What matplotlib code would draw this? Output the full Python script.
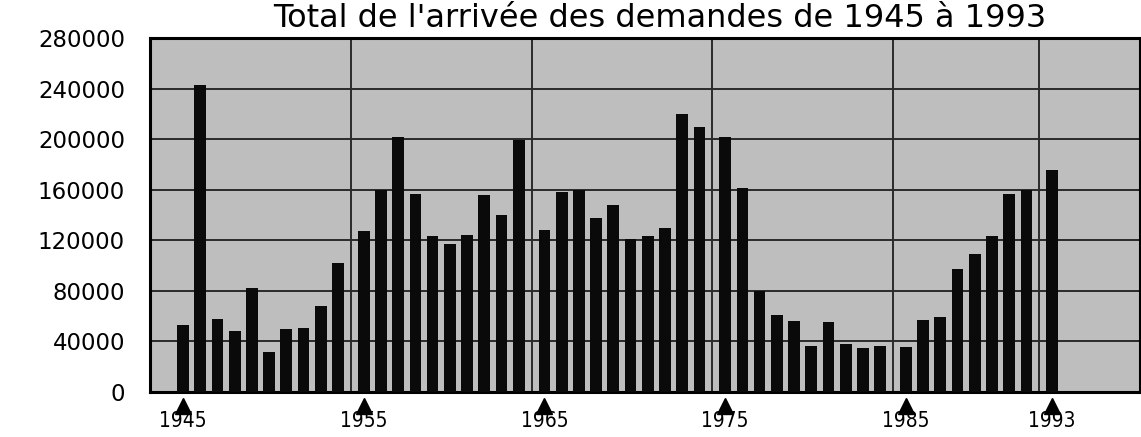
import numpy as np
import matplotlib
matplotlib.use("Agg")
import matplotlib.pyplot as plt

# données
years = list(range(1945, 1994))
demandes = [
    53000, 243000, 58000, 48000, 82000, 32000, 50000, 50500, 68000, 102000,
    127000, 160000, 202000, 157000, 123000, 117000, 124000, 156000, 140000, 199000,
    128000, 158000, 160000, 138000, 148000, 121000, 123000, 130000, 220000, 210000,
    202000, 161000, 80000, 61000, 56000, 36000, 55000, 38000, 35000, 36000,
    35500, 57000, 59000, 97500, 109000, 123000, 157000, 160000, 175500,
]
groupes = [1955, 1965, 1975, 1985, 1993]   # début de chaque bloc
reperes = [1945, 1955, 1965, 1975, 1985, 1993]
y_ticks = [0, 40000, 80000, 120000, 160000, 200000, 240000, 280000]

gap = 0.5


def pos(an):
    n = sum(1 for g in groupes if an >= g)
    return (an - 1945) + n * gap


x = np.array([pos(a) for a in years])

fig = plt.figure(figsize=(11.41, 4.37), dpi=100)
ax = fig.add_axes([150 / 1141, 45 / 437, 990 / 1141, 354 / 437])
ax.set_facecolor("#bebebe")

ax.bar(x, demandes, width=0.68, color="#0a0a0a", zorder=3)

# lignes verticales entre les blocs
for g in groupes:
    ax.axvline((pos(g) + pos(g - 1)) / 2, color="#2a2a2a", lw=1.4, zorder=2)

ax.set_ylim(0, 280000)
ax.set_xlim(-1.92, 55.6)
ax.set_yticks(y_ticks)
ax.set_yticklabels([str(v) for v in y_ticks], fontsize=16.5)
ax.yaxis.grid(True, color="#2a2a2a", lw=1.4, zorder=2)
ax.tick_params(axis="y", length=0, pad=18)
ax.set_axisbelow(True)

xp = [pos(a) for a in reperes]
ax.set_xticks(xp)
ax.set_xticklabels([str(a) for a in reperes], fontsize=15, fontstretch="condensed")
ax.tick_params(axis="x", length=0, pad=14)
ax.plot(xp, [-0.04] * len(xp), marker="^", ls="none", ms=11, color="black",
        transform=ax.get_xaxis_transform(), clip_on=False)

for s in ax.spines.values():
    s.set_linewidth(2.2)
    s.set_color("black")

fig.text(0.578, 0.958, "Total de l'arrivée des demandes de 1945 à 1993",
         ha="center", va="center", fontsize=23)

fig.savefig("out.png", dpi=100)
